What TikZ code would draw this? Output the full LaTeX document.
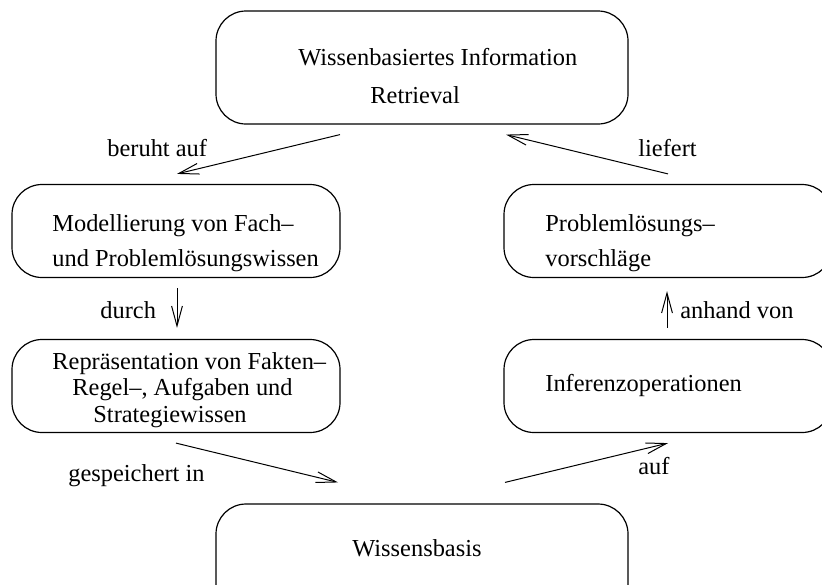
\documentclass[tikz,border=0pt]{standalone}
\usepackage{fontspec}
\setmainfont{Liberation Serif}
\usetikzlibrary{arrows.meta,calc}

\begin{document}
\begin{tikzpicture}[
  x=0.5pt, y=-0.5pt,
  font=\fontsize{12.2}{14.6}\selectfont,
  box/.style={draw, line width=0.6pt, rounded corners=15pt, inner sep=0pt},
  widebox/.style={box, minimum width=206pt, minimum height=56.5pt},
  sidebox/.style={box, minimum width=164pt, minimum height=46.5pt},
  txt/.style={anchor=base west, inner sep=0pt},
  flow/.style={line width=0.5pt, -{Straight Barb[length=10pt,width=5.4pt,line width=0.5pt]}}
]
\useasboundingbox (0,0) rectangle (822,584);
\clip (0,0) rectangle (822,584);

% boxes
\node[widebox] (ir)   at (422,67.5)  {};
\node[sidebox] (mod)  at (176,231)   {};
\node[sidebox] (prob) at (668,231)   {};
\node[sidebox] (rep)  at (176,386)   {};
\node[sidebox] (inf)  at (668,386)   {};
\node[widebox] (wb)   at (422,560.5) {};

% box texts
\node[txt] (ir1) at (298,65)  {Wissenbasiertes Information};
\node[txt] (ir2) at (370,103) {Retrieval};
\node[txt] (mod1) at (52,231) {Modellierung von Fach--};
\node[txt] (mod2) at (52,266) {und Problemlösungswissen};
\node[txt] (prob1) at (545,231) {Problemlösungs--};
\node[txt] (prob2) at (545,266) {vorschläge};
\node[txt] (rep1) at (52,369) {Repräsentation von Fakten--};
\node[txt] (rep2) at (72,395) {Regel--, Aufgaben und};
\node[txt] (rep3) at (93,422) {Strategiewissen};
\node[txt] (inf1) at (545,391) {Inferenzoperationen};
\node[txt] (wb1)  at (352,556) {Wissensbasis};

% connector end points
\coordinate (a1) at ($(ir.south)+(-82,10)$);
\coordinate (a2) at ($(mod.north)+(1,-10)$);
\coordinate (b1) at ($(prob.north)+(0,-10)$);
\coordinate (b2) at ($(ir.south)+(84,10)$);
\coordinate (c1) at ($(mod.south)+(1,10)$);
\coordinate (c2) at ($(rep.north)+(1,-11)$);
\coordinate (d1) at ($(inf.north)+(-1,-11)$);
\coordinate (d2) at ($(prob.south)+(-1,13)$);
\coordinate (e1) at ($(rep.south)+(0,10)$);
\coordinate (e2) at ($(wb.north)+(-84,-21)$);
\coordinate (f1) at ($(wb.north)+(83,-21)$);
\coordinate (f2) at ($(inf.south)+(0,10)$);

% connectors
\draw[flow] (a1) -- (a2);
\draw[flow] (b1) -- (b2);
\draw[flow] (c1) -- (c2);
\draw[flow] (d1) -- (d2);
\draw[flow] (e1) -- (e2);
\draw[flow] (f1) -- (f2);

% connector labels
\node[txt] (l1) at (107,156) {beruht auf};
\node[txt] (l2) at (638,156) {liefert};
\node[txt] (l3) at (100,318) {durch};
\node[txt] (l4) at (680,318) {anhand von};
\node[txt] (l5) at (68,481)  {gespeichert in};
\node[txt] (l6) at (638,474) {auf};
\end{tikzpicture}
\end{document}
